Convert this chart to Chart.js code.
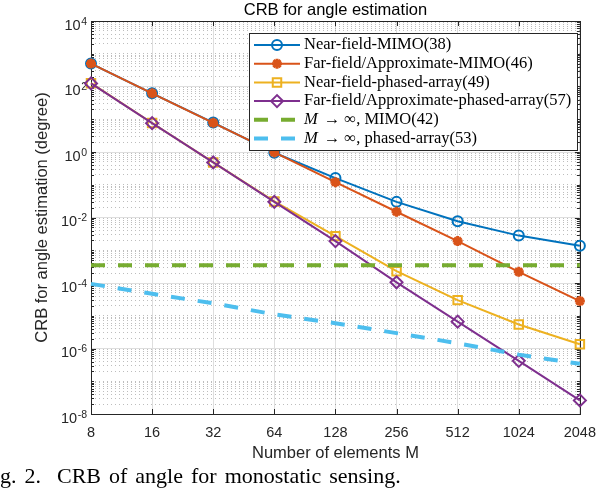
<!DOCTYPE html>
<html>
<head>
<meta charset="utf-8">
<script src="https://cdn.jsdelivr.net/npm/chart.js@4/dist/chart.umd.min.js"></script>
<style>
  html, body { margin: 0; padding: 0; background: #ffffff; }
  #wrap { position: relative; width: 606px; height: 492px; overflow: hidden; background: #fff; }
  #box { position: absolute; left: 0; top: 0; width: 606px; height: 492px; }
  #caption { position: absolute; left: 0; top: 464.5px; font-family: "Liberation Serif", "Times New Roman", serif;
             font-size: 22px; line-height: 22px; color: #000; white-space: pre; word-spacing: 2.5px; }
</style>
</head>
<body>
<div id="wrap">
  <div id="box"><canvas id="c"></canvas></div>
  <div id="caption">g. 2.  CRB of angle for monostatic sensing.</div>
</div>
<script>
// ---------------- data ----------------
const elements = [8, 16, 32, 64, 128, 256, 512, 1024, 2048];
const nearFieldMimo = [500, 62, 7.9, 0.95, 0.16, 0.030, 0.0077, 0.0028, 0.00138];
const farFieldMimo = [500, 62, 7.8, 0.97, 0.12, 0.015, 0.0019, 0.00022, 0.000028];
const nearFieldPhased = [126, 7.7, 0.48, 0.031, 0.0027, 0.00023, 0.000030, 0.0000054, 0.00000135];
const farFieldPhased = [124, 7.6, 0.48, 0.030, 0.0019, 0.000105, 0.0000066, 0.00000042, 0.000000026];
const limitMimo = [0.00035, 0.00035, 0.00035, 0.00035, 0.00035, 0.00035, 0.00035, 0.00035, 0.00035];
const limitPhased = [0.000094, 0.000047, 0.000024, 0.000011, 0.0000059, 0.00000295, 0.00000145, 0.00000065, 0.00000034];
const seriesNames = [
  "Near-field-MIMO(38)",
  "Far-field/Approximate-MIMO(46)",
  "Near-field-phased-array(49)",
  "Far-field/Approximate-phased-array(57)",
  "M \u2192 \u221E, MIMO(42)",
  "M \u2192 \u221E, phased-array(53)"
];
const xTickValues = [8, 16, 32, 64, 128, 256, 512, 1024, 2048];
const yDecades = [-8, -7, -6, -5, -4, -3, -2, -1, 0, 1, 2, 3, 4];
const yLabelDecades = [-8, -6, -4, -2, 0, 2, 4];
const titleText = "CRB for angle estimation";
const xTitle = "Number of elements M";
const yTitle = "CRB for angle estimation (degree)";

// ---------------- styling ----------------
const colors = ['#0072BD', '#D95319', '#EDB120', '#7E2F8E', '#77AC30', '#4DBEEE'];
const axisColor = '#262626';
const sansFont = '"Liberation Sans", Arial, Helvetica, sans-serif';
const serifFont = '"Liberation Serif", "Times New Roman", serif';

const yTickValues = [];
yDecades.forEach(d => {
  if (d === 4) { yTickValues.push(1e4); return; }
  for (let m = 1; m <= 9; m++) yTickValues.push(m * Math.pow(10, d));
});

function decadeOf(v) {
  const e = Math.round(Math.log10(v));
  return Math.abs(v - Math.pow(10, e)) / v < 1e-6 ? e : null;
}
function isLabelDecade(v) {
  const e = decadeOf(v);
  return e !== null && yLabelDecades.includes(e);
}

function mk(label, data, color, style, extra) {
  return Object.assign({
    label: label,
    data: data,
    borderColor: color,
    backgroundColor: 'rgba(0,0,0,0)',
    pointBorderColor: color,
    pointBackgroundColor: 'rgba(0,0,0,0)',
    borderWidth: 2,
    pointStyle: style,
    pointRadius: 5,
    pointBorderWidth: 2,
    pointHoverRadius: 5,
    tension: 0,
    clip: false,
    fill: false
  }, extra || {});
}

const datasets = [
  mk(seriesNames[0], nearFieldMimo, colors[0], 'circle', {order: 6, pointRadius: 5}),
  mk(seriesNames[1], farFieldMimo, colors[1], 'star', {order: 5, pointRadius: 5, pointBorderWidth: 3}),
  mk(seriesNames[2], nearFieldPhased, colors[2], 'rect', {order: 4, pointRadius: 6}),
  mk(seriesNames[3], farFieldPhased, colors[3], 'rectRot', {order: 3, pointRadius: 6}),
  mk(seriesNames[4], limitMimo, colors[4], 'line', {order: 2, pointRadius: 0, borderWidth: 4, borderDash: [14, 13], borderCapStyle: 'butt'}),
  mk(seriesNames[5], limitPhased, colors[5], 'line', {order: 1, pointRadius: 0, borderWidth: 4, borderDash: [14, 13], borderCapStyle: 'butt'})
];

function drawMarker(ctx, style, r, x, y, color, bw) {
  ctx.save();
  ctx.strokeStyle = color;
  ctx.fillStyle = 'rgba(0,0,0,0)';
  ctx.lineWidth = bw;
  ctx.setLineDash([]);
  if (Chart.helpers && Chart.helpers.drawPoint) {
    Chart.helpers.drawPoint(ctx, {pointStyle: style, radius: r, borderWidth: bw, rotation: 0}, x, y);
  }
  ctx.restore();
}

const decorPlugin = {
  id: 'decor',
  beforeDatasetsDraw(chart) {
    const {ctx, chartArea: a, scales} = chart;
    ctx.save();
    ctx.strokeStyle = axisColor;
    ctx.lineWidth = 1;
    ctx.setLineDash([]);
    // inward ticks
    ctx.beginPath();
    xTickValues.forEach(v => {
      const px = Math.round(scales.x.getPixelForValue(v)) + 0.5;
      ctx.moveTo(px, a.bottom); ctx.lineTo(px, a.bottom - 5);
      ctx.moveTo(px, a.top); ctx.lineTo(px, a.top + 5);
    });
    yTickValues.forEach(v => {
      const py = Math.round(scales.y.getPixelForValue(v)) + 0.5;
      const len = isLabelDecade(v) ? 5 : 3;
      ctx.moveTo(a.left, py); ctx.lineTo(a.left + len, py);
      ctx.moveTo(a.right, py); ctx.lineTo(a.right - len, py);
    });
    ctx.stroke();
    // frame
    ctx.strokeRect(Math.round(a.left) + 0.5, Math.round(a.top) + 0.5,
                   Math.round(a.right - a.left), Math.round(a.bottom - a.top));

    // y tick labels: 10 with raised exponent
    ctx.fillStyle = axisColor;
    yLabelDecades.forEach(e => {
      const py = scales.y.getPixelForValue(Math.pow(10, e));
      const expText = String(e);
      ctx.font = '10.5px ' + sansFont;
      const ew = ctx.measureText(expText).width;
      ctx.textAlign = 'right';
      ctx.textBaseline = 'alphabetic';
      ctx.fillText(expText, a.left - 4, py + 3.5);
      ctx.font = '14.5px ' + sansFont;
      ctx.textBaseline = 'middle';
      ctx.fillText('10', a.left - 4 - ew - 0.5, py + 4.5);
    });
    ctx.restore();
  },
  afterDatasetsDraw(chart) {
    const {ctx, chartArea: a} = chart;
    ctx.save();
    // title
    ctx.fillStyle = '#000';
    ctx.font = '16.5px ' + sansFont;
    ctx.textAlign = 'center';
    ctx.textBaseline = 'alphabetic';
    ctx.fillText(titleText, (a.left + a.right) / 2, 15);

    // legend
    const bx = 249.5, by = 33.5, bw = 328, bh = 117;
    ctx.fillStyle = '#ffffff';
    ctx.fillRect(bx, by, bw, bh);
    ctx.strokeStyle = axisColor;
    ctx.lineWidth = 1;
    ctx.strokeRect(bx, by, bw, bh);
    const rowY0 = 45, rowStep = 18.7;
    chart.data.datasets.forEach((ds, i) => {
      const y = rowY0 + i * rowStep;
      ctx.save();
      ctx.strokeStyle = ds.borderColor;
      ctx.lineWidth = ds.borderWidth;
      ctx.lineCap = 'butt';
      ctx.setLineDash(ds.borderDash || []);
      ctx.beginPath();
      ctx.moveTo(254, y); ctx.lineTo(300, y);
      ctx.stroke();
      ctx.restore();
      if (ds.pointRadius > 0) drawMarker(ctx, ds.pointStyle, ds.pointRadius, 277, y, ds.borderColor, ds.pointBorderWidth);
      // label text
      ctx.fillStyle = '#000';
      ctx.textAlign = 'left';
      ctx.textBaseline = 'middle';
      let x = 304;
      const label = ds.label;
      if (label.startsWith('M ')) {
        ctx.font = 'italic 16.5px ' + serifFont;
        ctx.fillText('M', x, y);
        x += ctx.measureText('M').width + 6;
        ctx.font = '16.5px ' + serifFont;
        ctx.fillText(label.slice(2), x, y);
      } else {
        ctx.font = '16.5px ' + serifFont;
        ctx.fillText(label, x, y);
      }
    });
    ctx.restore();
  }
};

const chart = new Chart(document.getElementById('c'), {
  type: 'line',
  data: { labels: elements, datasets: datasets.map(ds => Object.assign({}, ds, {
    data: ds.data.map((v, i) => ({x: elements[i], y: v}))
  })) },
  options: {
    responsive: true,
    maintainAspectRatio: false,
    animation: false,
    devicePixelRatio: 1,
    layout: { padding: { top: 21, right: 17, bottom: 28, left: 0 } },
    plugins: {
      legend: { display: false },
      title: { display: false },
      tooltip: { enabled: false }
    },
    scales: {
      x: {
        type: 'logarithmic',
        min: 8, max: 2048,
        afterBuildTicks: (s) => { s.ticks = xTickValues.map(v => ({value: v})); },
        afterFit: (s) => { s.height = 50; },
        ticks: {
          autoSkip: false, maxRotation: 0, minRotation: 0, padding: 10,
          color: axisColor, font: { family: sansFont, size: 14.5 },
          callback: (v) => String(v)
        },
        grid: { color: '#dedede', lineWidth: 1, drawTicks: false },
        border: { display: false },
        title: {
          display: true, text: xTitle, color: axisColor,
          font: { family: sansFont, size: 16.5 }, padding: { top: 0, bottom: 1 }
        }
      },
      y: {
        type: 'logarithmic',
        min: 1e-8, max: 1e4,
        afterBuildTicks: (s) => { s.ticks = yTickValues.map(v => ({value: v})); },
        afterFit: (s) => { s.width = 91; },
        ticks: {
          autoSkip: false, padding: 4, color: axisColor,
          font: { family: sansFont, size: 14.5 },
          callback: () => ''
        },
        grid: {
          drawTicks: false,
          lineWidth: 1,
          color: (c) => (c.tick && !isLabelDecade(c.tick.value)) ? 'rgba(0,0,0,0.26)' : '#dedede'
        },
        border: {
          display: false,
          dash: (c) => (c.tick && !isLabelDecade(c.tick.value)) ? [1, 3] : []
        },
        title: {
          display: true, text: yTitle, color: axisColor,
          font: { family: sansFont, size: 16.5 }, padding: { top: 33, bottom: 0 }
        }
      }
    }
  },
  plugins: [decorPlugin]
});
</script>
</body>
</html>
